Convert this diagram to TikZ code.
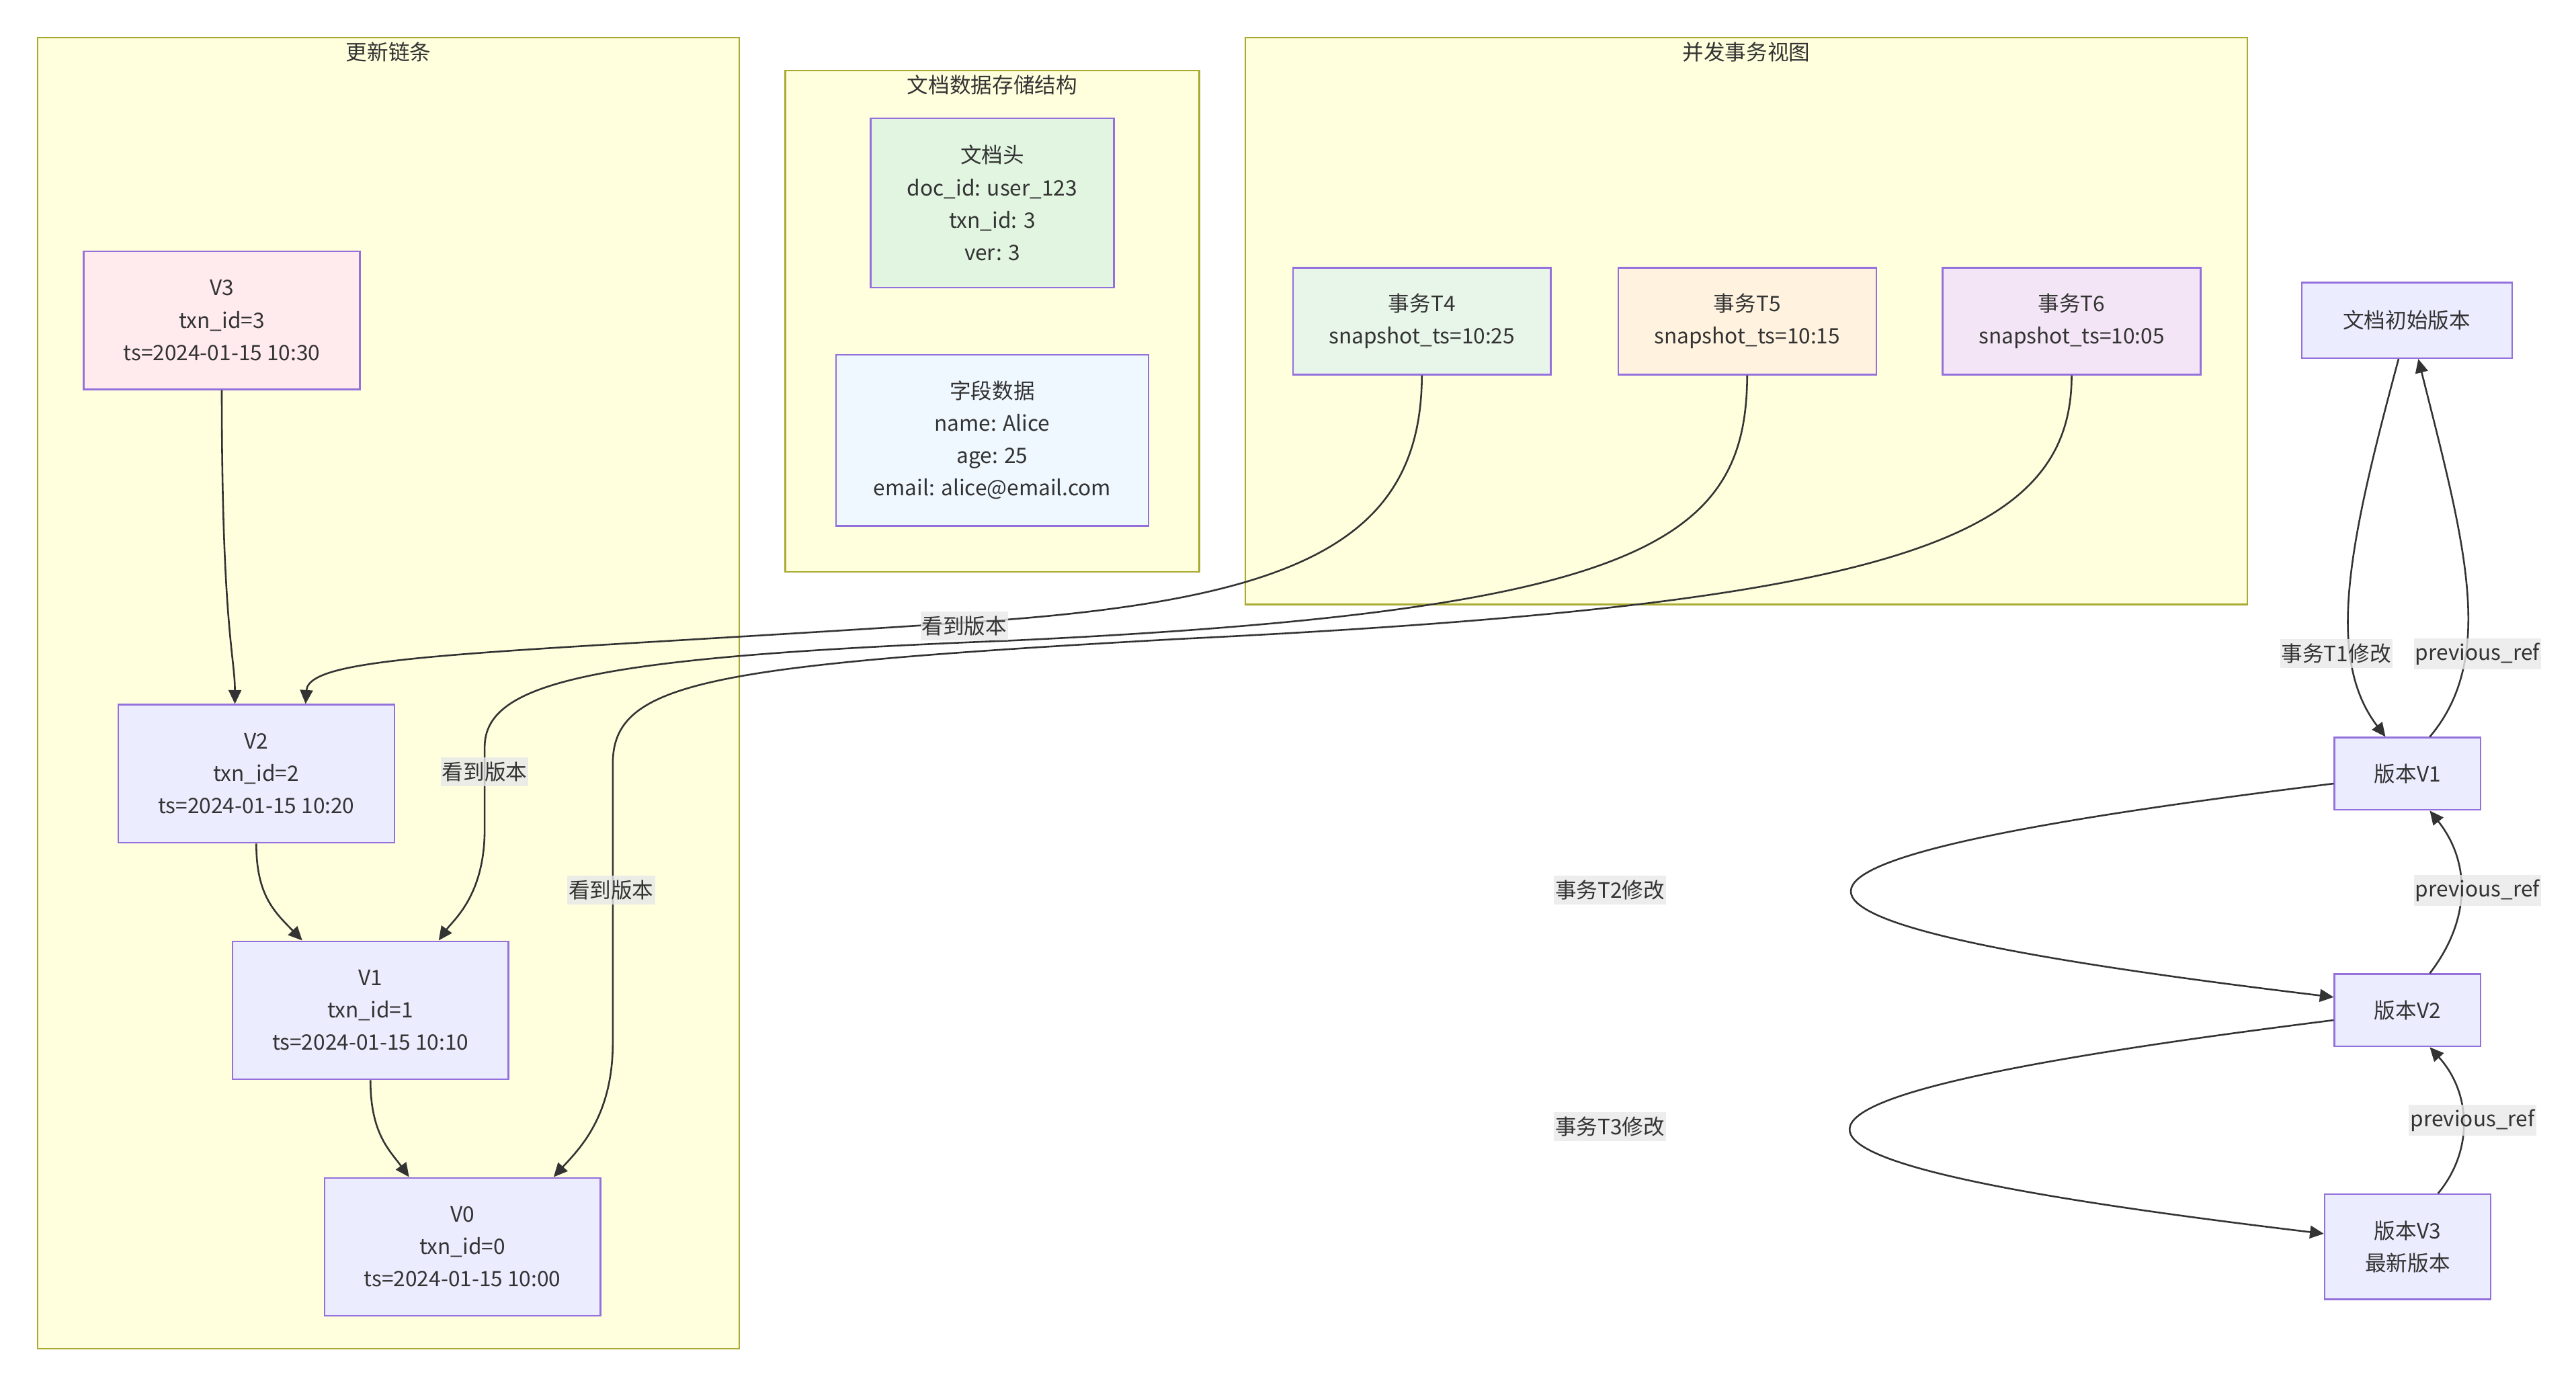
\documentclass[tikz,border=0pt]{standalone}
\usepackage{fontspec}
\setmainfont{Noto Sans CJK SC}
\usetikzlibrary{arrows.meta,positioning,fit,calc}

\definecolor{nodefill}{HTML}{ECECFF}
\definecolor{nodeline}{HTML}{9370DB}
\definecolor{clusterfill}{HTML}{FFFFDE}
\definecolor{clusterline}{HTML}{AAAA33}
\definecolor{edgeline}{HTML}{333333}
\definecolor{labelfill}{HTML}{E8E8E8}
\definecolor{pinkfill}{HTML}{FFEBEE}
\definecolor{headfill}{HTML}{E1F5E1}
\definecolor{fieldfill}{HTML}{F0F8FF}
\definecolor{greenfill}{HTML}{E8F5E9}
\definecolor{orangefill}{HTML}{FFF3E0}
\definecolor{purplefill}{HTML}{F3E5F5}

\begin{document}
\begin{tikzpicture}[
  x=0.025cm, y=-0.025cm,
  font=\fontsize{9.2}{14}\selectfont, text=edgeline,
  cluster/.style={draw=clusterline, fill=clusterfill, line width=0.7pt, inner sep=0pt},
  ctitle/.style={inner sep=0pt},
  box/.style={draw=nodeline, fill=nodefill, line width=0.7pt, align=center, inner sep=0pt},
  verbox/.style={box, minimum width=4.2cm, minimum height=2.1cm},
  txbox/.style={box, minimum width=3.925cm, minimum height=1.625cm},
  refbox/.style={box, minimum width=2.225cm, minimum height=1.1cm},
  lbl/.style={fill=labelfill, fill opacity=0.8, text opacity=1, inner xsep=0.6pt, inner ysep=2pt},
  arr/.style={-{Triangle[length=6pt,width=5.5pt]}, draw=edgeline, line width=0.75pt}
]
\useasboundingbox (0,0) rectangle (1568,844);

% subgraphs
\node[cluster, fit={(23,23) (450,821)}] (chain) {};
\node[ctitle] at ($(chain.north)+(0,9)$) {更新链条};
\node[cluster, fit={(478,43) (730,348)}] (store) {};
\node[ctitle] at ($(store.north)+(0,9)$) {文档数据存储结构};
\node[cluster, fit={(758,23) (1368,368)}] (view) {};
\node[ctitle] at ($(view.north)+(0,9)$) {并发事务视图};

% version chain
\node[verbox, fill=pinkfill] (v3) at (135,195) {V3\\txn\_id=3\\ts=2024-01-15 10:30};
\node[verbox] (v2) at (156,471) {V2\\txn\_id=2\\ts=2024-01-15 10:20};
\node[verbox] (v1) at (225.5,615) {V1\\txn\_id=1\\ts=2024-01-15 10:10};
\node[verbox] (v0) at (281.5,759) {V0\\txn\_id=0\\ts=2024-01-15 10:00};

% storage
\node[box, fill=headfill, minimum width=3.7cm, minimum height=2.575cm] (head) at (604,123.5) {文档头\\doc\_id: user\_123\\txn\_id: 3\\ver: 3};
\node[box, fill=fieldfill, minimum width=4.75cm, minimum height=2.6cm] (fields) at (604,268) {字段数据\\name: Alice\\age: 25\\email: alice@email.com};

% transactions
\node[txbox, fill=greenfill] (t4) at (865.5,195.5) {事务T4\\snapshot\_ts=10:25};
\node[txbox, fill=orangefill] (t5) at (1063.5,195.5) {事务T5\\snapshot\_ts=10:15};
\node[txbox, fill=purplefill] (t6) at (1261,195.5) {事务T6\\snapshot\_ts=10:05};

% right column
\node[box, minimum width=3.2cm, minimum height=1.15cm] (init) at (1465,195) {文档初始版本};
\node[refbox] (r1) at (1465.5,471) {版本V1};
\node[refbox] (r2) at (1465.5,615) {版本V2};
\node[box, minimum width=2.525cm, minimum height=1.6cm] (r3) at (1465.5,759) {版本V3\\最新版本};

% chain edges
\draw[arr] (v3.south) .. controls (135,380) and (143,400) .. ($(v2.north)+(-13,0)$);
\draw[arr] (v2.south) .. controls (156,545) and (167,555) .. ($(v1.north)+(-41.5,0)$);
\draw[arr] (v1.south) .. controls (225.5,690) and (237,700) .. ($(v0.north)+(-32.5,0)$);

% snapshot edges
\draw[arr] (t4.south) .. controls (865,330) and (790,366) .. (587,379)
  .. controls (300,398) and (188,398) .. ($(v2.north)+(30,0)$);
\draw[arr] (t5.south) .. controls (1063,330) and (1000,372) .. (614,390)
  .. controls (360,400) and (295,415) .. (295,455) -- (295,505)
  .. controls (295,545) and (276,560) .. ($(v1.north)+(41.5,0)$);
\draw[arr] (t6.south) .. controls (1261,330) and (1150,368) .. (717,389)
  .. controls (430,405) and (373,415) .. (373,465) -- (373,635)
  .. controls (373,680) and (352,700) .. ($(v0.north)+(55.5,0)$);

% right column edges
\draw[arr] ($(init.south)+(-5,0)$) .. controls (1430,330) and (1415,400) .. ($(r1.north)+(-13.5,0)$);
\draw[arr] ($(r1.north)+(13.5,0)$) .. controls (1520,400) and (1500,330) .. ($(init.south)+(7,0)$);
\draw[arr] ($(r1.west)+(0,6)$) .. controls (1030,525) and (1030,560) .. ($(r2.west)+(0,-8)$);
\draw[arr] ($(r2.north)+(13.5,0)$) .. controls (1504,560) and (1504,525) .. ($(r1.south)+(13.5,0)$);
\draw[arr] ($(r2.west)+(0,6)$) .. controls (1030,670) and (1030,705) .. ($(r3.west)+(0,-8)$);
\draw[arr] ($(r3.north)+(18.5,0)$) .. controls (1506,700) and (1504,665) .. ($(r2.south)+(13.5,0)$);

% edge labels
\node[lbl] (see4) at (587,381) {看到版本};
\node[lbl] (see5) at (295,470) {看到版本};
\node[lbl] (see6) at (372,542) {看到版本};
\node[lbl] (mod1) at (1422,398) {事务T1修改};
\node[lbl] (prev1) at (1508,398) {previous\_ref};
\node[lbl] (mod2) at (980,542) {事务T2修改};
\node[lbl] (prev2) at (1508,542) {previous\_ref};
\node[lbl] (mod3) at (980,686) {事务T3修改};
\node[lbl] (prev3) at (1505,682) {previous\_ref};
\end{tikzpicture}
\end{document}
